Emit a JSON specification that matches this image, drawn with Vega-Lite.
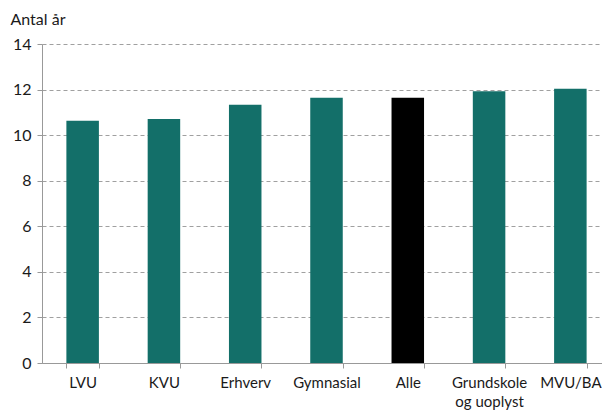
{
  "$schema": "https://vega.github.io/schema/vega-lite/v6.json",
  "width": 560,
  "height": 319,
  "autosize": "none",
  "padding": {"left": 42, "top": 44, "right": 0, "bottom": 51},
  "background": "white",
  "config": {
    "view": {"stroke": null},
    "font": "Lato",
    "axis": {"labelFont": "Lato", "titleFont": "Lato", "labelColor": "#1a1a1a", "titleColor": "#1a1a1a"}
  },
  "data": {
    "values": [
      {"gruppe": "LVU", "aar": 10.63, "type": "gruppe"},
      {"gruppe": "KVU", "aar": 10.71, "type": "gruppe"},
      {"gruppe": "Erhverv", "aar": 11.33, "type": "gruppe"},
      {"gruppe": "Gymnasial", "aar": 11.64, "type": "gruppe"},
      {"gruppe": "Alle", "aar": 11.64, "type": "alle"},
      {"gruppe": "Grundskole og uoplyst", "aar": 11.93, "type": "gruppe"},
      {"gruppe": "MVU/BA", "aar": 12.04, "type": "gruppe"}
    ]
  },
  "mark": {"type": "bar"},
  "encoding": {
    "x": {
      "field": "gruppe",
      "type": "nominal",
      "sort": null,
      "scale": {"range": [0, 569], "paddingInner": 0.6, "paddingOuter": 0.3},
      "axis": {
        "title": null,
        "labelAngle": 0,
        "labelFontSize": 15,
        "labelPadding": 7,
        "labelLineHeight": 19,
        "labelExpr": "datum.value == 'Grundskole og uoplyst' ? ['Grundskole', 'og uoplyst'] : datum.value",
        "domainColor": "#999999",
        "tickColor": "#999999",
        "tickBand": "extent",
        "tickSize": 5,
        "grid": false
      }
    },
    "y": {
      "field": "aar",
      "type": "quantitative",
      "scale": {"domain": [0, 14]},
      "axis": {
        "title": "Antal år",
        "titleAngle": 0,
        "titleAlign": "left",
        "titleBaseline": "alphabetic",
        "titleX": -32,
        "titleY": -20,
        "titleFontSize": 16,
        "titleFontWeight": "normal",
        "values": [0, 2, 4, 6, 8, 10, 12, 14],
        "labelFontSize": 16,
        "labelPadding": 6,
        "domainColor": "#999999",
        "tickColor": "#999999",
        "tickSize": 5,
        "grid": true,
        "gridColor": "#a0a0a0",
        "gridDash": [4, 3],
        "gridWidth": 1
      }
    },
    "color": {
      "field": "type",
      "type": "nominal",
      "scale": {"domain": ["gruppe", "alle"], "range": ["#136f69", "#000000"]},
      "legend": null
    }
  }
}
